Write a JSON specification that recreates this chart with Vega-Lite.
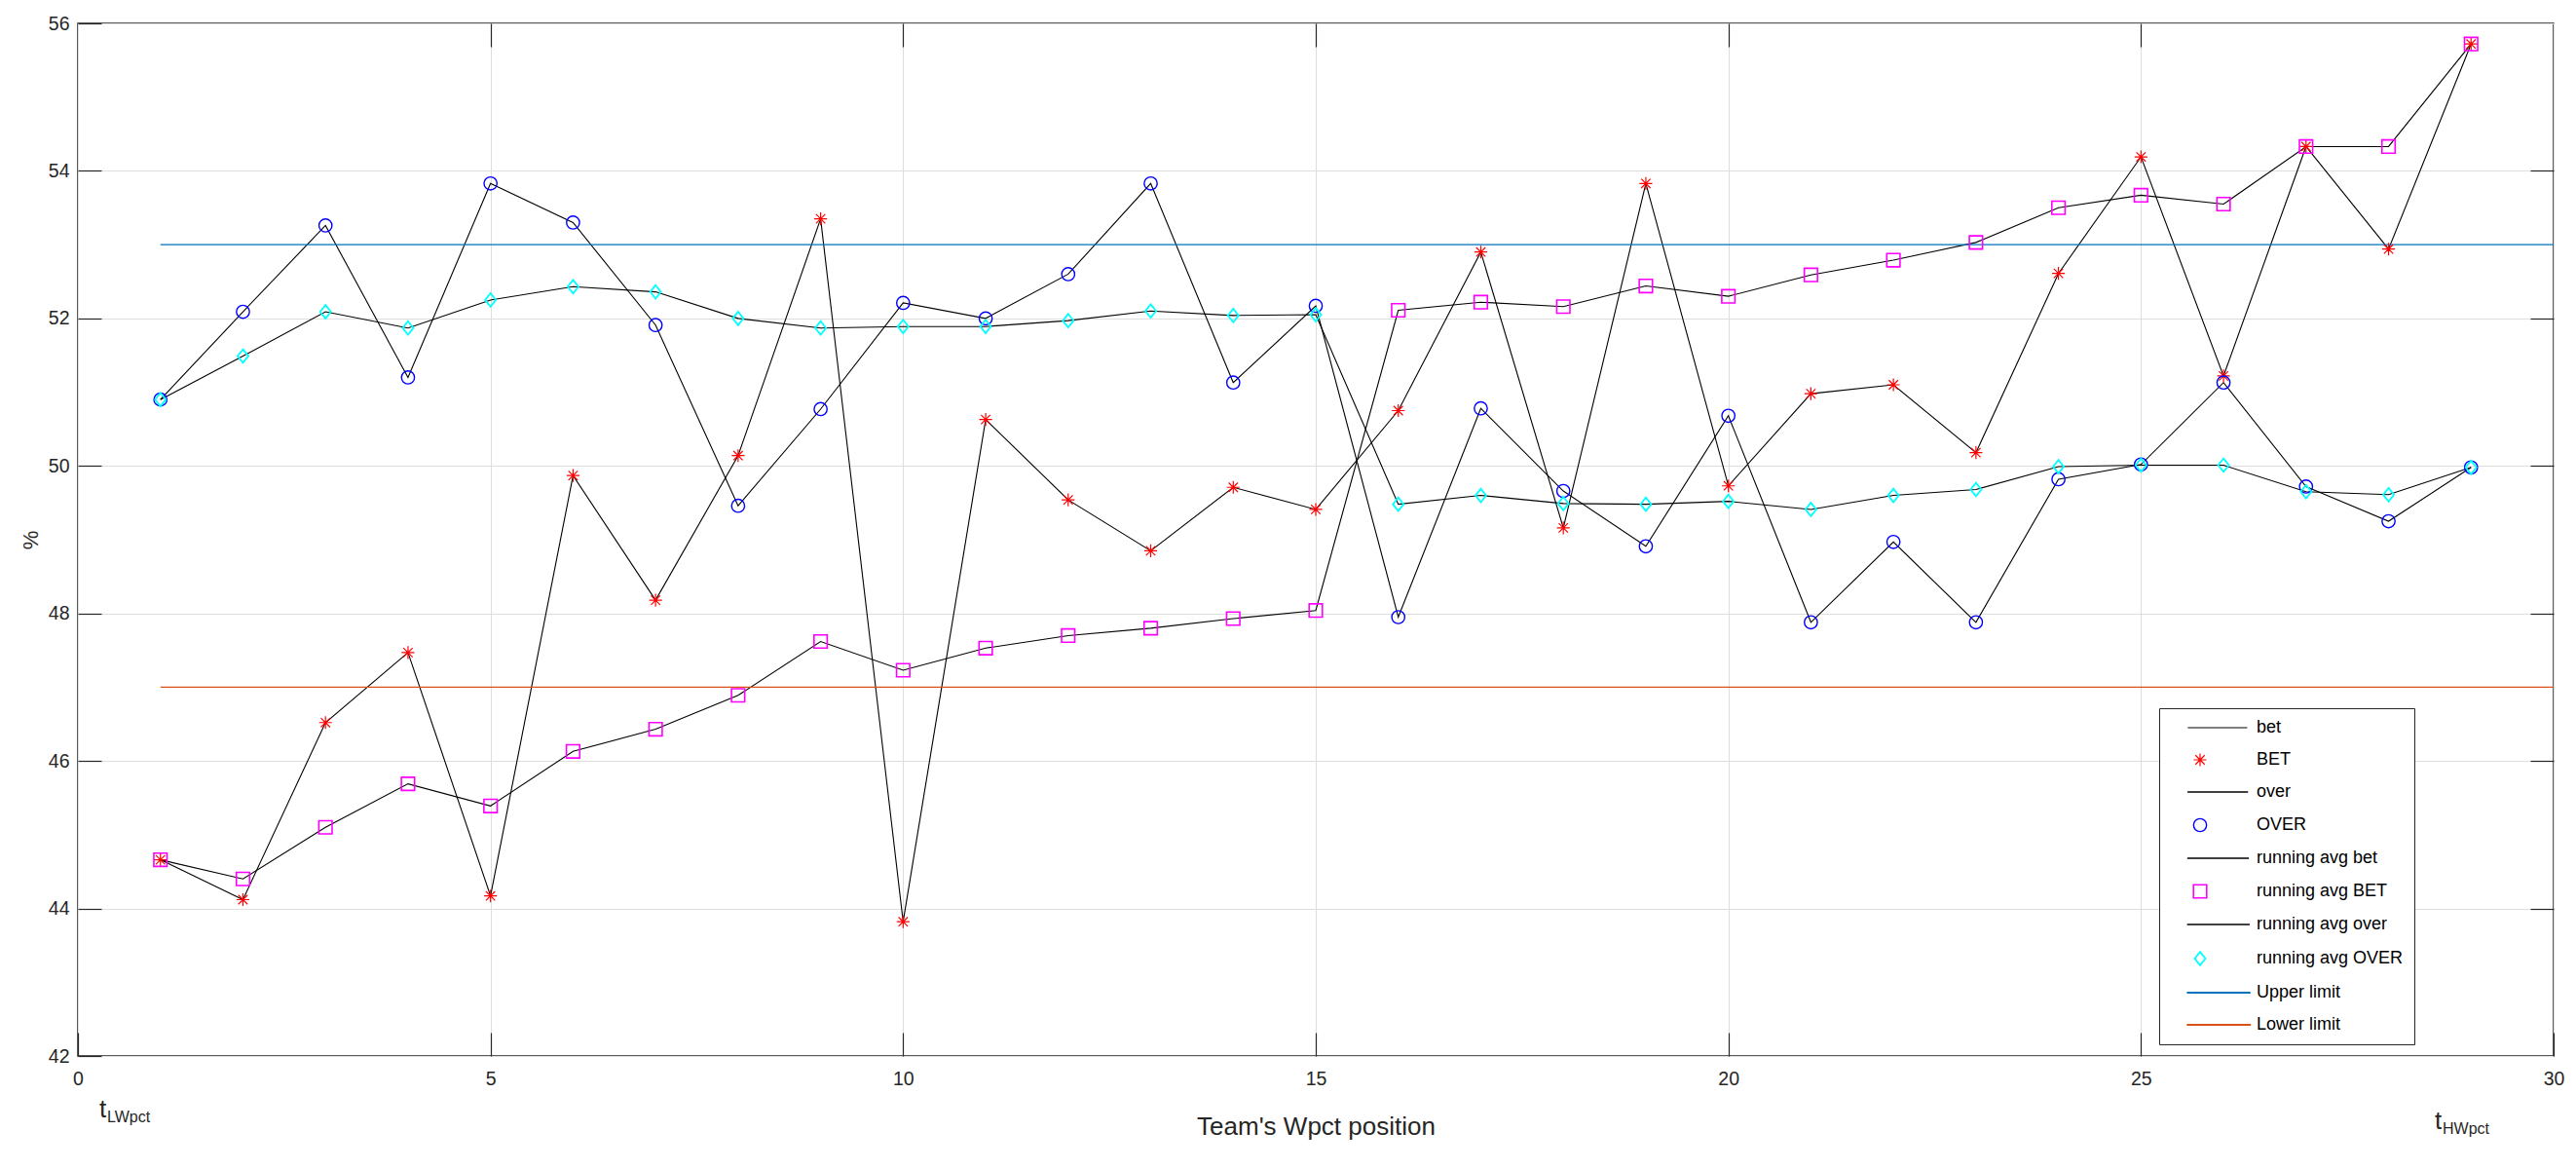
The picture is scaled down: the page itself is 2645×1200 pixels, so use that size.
{
  "$schema": "https://vega.github.io/schema/vega-lite/v6.json",
  "description": "BET / OVER by team Wpct position with running averages and limits",
  "width": 2542,
  "height": 1060,
  "autosize": {"type": "none"},
  "padding": {"left": 80, "top": 24, "right": 23, "bottom": 116},
  "config": {
    "font": "Liberation Sans",
    "view": {"stroke": "#262626", "strokeWidth": 1.5},
    "axis": {
      "domain": false,
      "labelColor": "#262626",
      "titleColor": "#262626",
      "tickColor": "#262626",
      "tickWidth": 1.2,
      "gridColor": "#dedede",
      "gridWidth": 1,
      "labelFont": "Liberation Sans",
      "titleFont": "Liberation Sans",
      "titleFontWeight": "normal",
      "labelFontSize": 19.5
    }
  },
  "datasets": {
    "teams": [
      {"x": 1, "BET": 44.66, "OVER": 50.90, "running avg BET": 44.66, "running avg OVER": 50.90},
      {"x": 2, "BET": 44.12, "OVER": 52.09, "running avg BET": 44.40, "running avg OVER": 51.49},
      {"x": 3, "BET": 46.52, "OVER": 53.26, "running avg BET": 45.10, "running avg OVER": 52.09},
      {"x": 4, "BET": 47.47, "OVER": 51.20, "running avg BET": 45.69, "running avg OVER": 51.87},
      {"x": 5, "BET": 44.17, "OVER": 53.83, "running avg BET": 45.39, "running avg OVER": 52.25},
      {"x": 6, "BET": 49.87, "OVER": 53.30, "running avg BET": 46.13, "running avg OVER": 52.43},
      {"x": 7, "BET": 48.18, "OVER": 51.91, "running avg BET": 46.43, "running avg OVER": 52.36},
      {"x": 8, "BET": 50.14, "OVER": 49.46, "running avg BET": 46.89, "running avg OVER": 52.00},
      {"x": 9, "BET": 53.35, "OVER": 50.77, "running avg BET": 47.62, "running avg OVER": 51.87},
      {"x": 10, "BET": 43.82, "OVER": 52.21, "running avg BET": 47.23, "running avg OVER": 51.89},
      {"x": 11, "BET": 50.63, "OVER": 52.00, "running avg BET": 47.53, "running avg OVER": 51.89},
      {"x": 12, "BET": 49.54, "OVER": 52.60, "running avg BET": 47.70, "running avg OVER": 51.97},
      {"x": 13, "BET": 48.85, "OVER": 53.83, "running avg BET": 47.80, "running avg OVER": 52.10},
      {"x": 14, "BET": 49.71, "OVER": 51.13, "running avg BET": 47.93, "running avg OVER": 52.04},
      {"x": 15, "BET": 49.41, "OVER": 52.17, "running avg BET": 48.04, "running avg OVER": 52.05},
      {"x": 16, "BET": 50.75, "OVER": 47.95, "running avg BET": 52.11, "running avg OVER": 49.48},
      {"x": 17, "BET": 52.90, "OVER": 50.78, "running avg BET": 52.22, "running avg OVER": 49.60},
      {"x": 18, "BET": 49.16, "OVER": 49.66, "running avg BET": 52.16, "running avg OVER": 49.49},
      {"x": 19, "BET": 53.83, "OVER": 48.91, "running avg BET": 52.44, "running avg OVER": 49.48},
      {"x": 20, "BET": 49.73, "OVER": 50.68, "running avg BET": 52.30, "running avg OVER": 49.52},
      {"x": 21, "BET": 50.98, "OVER": 47.88, "running avg BET": 52.59, "running avg OVER": 49.41},
      {"x": 22, "BET": 51.10, "OVER": 48.97, "running avg BET": 52.79, "running avg OVER": 49.60},
      {"x": 23, "BET": 50.18, "OVER": 47.88, "running avg BET": 53.03, "running avg OVER": 49.68},
      {"x": 24, "BET": 52.61, "OVER": 49.82, "running avg BET": 53.50, "running avg OVER": 49.99},
      {"x": 25, "BET": 54.19, "OVER": 50.02, "running avg BET": 53.67, "running avg OVER": 50.01},
      {"x": 26, "BET": 51.22, "OVER": 51.13, "running avg BET": 53.55, "running avg OVER": 50.01},
      {"x": 27, "BET": 54.33, "OVER": 49.72, "running avg BET": 54.33, "running avg OVER": 49.65},
      {"x": 28, "BET": 52.94, "OVER": 49.25, "running avg BET": 54.33, "running avg OVER": 49.61},
      {"x": 29, "BET": 55.72, "OVER": 49.98, "running avg BET": 55.72, "running avg OVER": 49.98}
    ],
    "limits": [
      {"series": "Upper limit", "y": 53, "from": 1, "to": 30},
      {"series": "Lower limit", "y": 47, "from": 1, "to": 30}
    ],
    "notes": [
      {"x": 0.26, "y": 41.17, "t": "t", "sub": "LWpct"},
      {"x": 28.56, "y": 41.01, "t": "t", "sub": "HWpct"}
    ]
  },
  "layer": [
    {
      "data": {"name": "teams"},
      "transform": [{"fold": ["BET", "OVER", "running avg BET", "running avg OVER"], "as": ["series", "pct"]}],
      "mark": {"type": "line", "stroke": "#000000", "strokeWidth": 1.1},
      "encoding": {
        "x": {
          "field": "x", "type": "quantitative",
          "scale": {"domain": [0, 30], "nice": false},
          "axis": {
            "orient": "bottom", "values": [0, 5, 10, 15, 20, 25, 30],
            "grid": true, "offset": -24, "tickSize": 24, "labelPadding": 14.5, "labelFlush": false,
            "title": "Team's Wpct position", "titleFontSize": 26, "titleY": 83
          }
        },
        "y": {
          "field": "pct", "type": "quantitative",
          "scale": {"domain": [42, 56], "nice": false, "zero": false},
          "axis": {
            "orient": "left", "values": [42, 44, 46, 48, 50, 52, 54, 56],
            "grid": true, "offset": -24, "tickSize": 24, "labelPadding": 9,
            "title": "%", "titleFontSize": 22, "titleX": -61, "titleY": 530
          }
        },
        "detail": {"field": "series"}
      }
    },
    {
      "data": {"name": "limits"},
      "transform": [{"filter": "datum.series == 'Upper limit'"}],
      "mark": {"type": "rule", "stroke": "#0072bd", "strokeWidth": 1.3},
      "encoding": {
        "x": {
          "field": "from", "type": "quantitative",
          "scale": {"domain": [0, 30], "nice": false},
          "axis": {
            "orient": "top", "values": [5, 10, 15, 20, 25],
            "grid": false, "labels": false, "offset": -24, "tickSize": 24, "title": null
          }
        },
        "x2": {"field": "to"},
        "y": {
          "field": "y", "type": "quantitative",
          "scale": {"domain": [42, 56], "nice": false, "zero": false},
          "axis": {
            "orient": "right", "values": [44, 46, 48, 50, 52, 54],
            "grid": false, "labels": false, "offset": -24, "tickSize": 24, "title": null
          }
        }
      }
    },
    {
      "data": {"name": "limits"},
      "transform": [{"filter": "datum.series == 'Lower limit'"}],
      "mark": {"type": "rule", "stroke": "#d95319", "strokeWidth": 1.3},
      "encoding": {
        "x": {"field": "from", "type": "quantitative", "axis": null},
        "x2": {"field": "to"},
        "y": {"field": "y", "type": "quantitative", "axis": null}
      }
    },
    {
      "data": {"name": "teams"},
      "transform": [{"fold": ["BET", "OVER", "running avg BET", "running avg OVER"], "as": ["series", "pct"]}],
      "mark": {"type": "point", "filled": false, "opacity": 1},
      "encoding": {
        "x": {"field": "x", "type": "quantitative", "axis": null},
        "y": {"field": "pct", "type": "quantitative", "axis": null},
        "stroke": {
          "field": "series", "type": "nominal",
          "scale": {
            "domain": ["bet", "BET", "over", "OVER", "running avg bet", "running avg BET", "running avg over", "running avg OVER", "Upper limit", "Lower limit"],
            "range": ["#000000", "#ff0000", "#000000", "#0000ff", "#000000", "#ff00ff", "#000000", "#00ffff", "#0072bd", "#d95319"]
          },
          "legend": {
            "orient": "none",
            "legendX": 2137,
            "legendY": 703,
            "title": null,
            "strokeColor": "#262626",
            "fillColor": "white",
            "padding": 11,
            "rowPadding": 15,
            "labelFont": "Liberation Sans",
            "labelFontSize": 18,
            "labelColor": "#000000",
            "labelLimit": 400,
            "symbolOffset": 22,
            "labelOffset": 49,
            "labelExpr": "datum.label + '\u00a0\u00a0\u00a0\u00a0\u00a0'"
          }
        },
        "shape": {
          "field": "series", "type": "nominal",
          "scale": {
            "domain": ["bet", "BET", "over", "OVER", "running avg bet", "running avg BET", "running avg over", "running avg OVER", "Upper limit", "Lower limit"],
            "range": [
              "M-1.95,0L7.45,0",
              "M-1,0L1,0M0,-1L0,1M-0.72,-0.72L0.72,0.72M-0.72,0.72L0.72,-0.72",
              "M-1.95,0L7.45,0",
              "circle",
              "M-1.95,0L7.45,0",
              "square",
              "M-1.95,0L7.45,0",
              "M0,-1L0.8,0L0,1L-0.8,0Z",
              "M-1.95,0L7.45,0",
              "M-1.95,0L7.45,0"
            ]
          }
        },
        "size": {
          "field": "series", "type": "nominal",
          "scale": {
            "domain": ["bet", "BET", "over", "OVER", "running avg bet", "running avg BET", "running avg over", "running avg OVER", "Upper limit", "Lower limit"],
            "range": [169, 196, 169, 196, 169, 121, 169, 289, 169, 169]
          }
        },
        "strokeWidth": {
          "field": "series", "type": "nominal",
          "scale": {
            "domain": ["bet", "BET", "over", "OVER", "running avg bet", "running avg BET", "running avg over", "running avg OVER", "Upper limit", "Lower limit"],
            "range": [1.1, 2, 1.1, 2, 1.1, 2, 1.1, 2, 1.3, 1.3]
          }
        }
      }
    },
    {
      "data": {"name": "notes"},
      "mark": {"type": "text", "align": "left", "baseline": "alphabetic", "fontSize": 26, "color": "#262626"},
      "encoding": {
        "x": {"field": "x", "type": "quantitative", "axis": null},
        "y": {"field": "y", "type": "quantitative", "axis": null},
        "text": {"field": "t"}
      }
    },
    {
      "data": {"name": "notes"},
      "mark": {"type": "text", "align": "left", "baseline": "alphabetic", "fontSize": 16, "color": "#262626", "dx": 8, "dy": 5},
      "encoding": {
        "x": {"field": "x", "type": "quantitative", "axis": null},
        "y": {"field": "y", "type": "quantitative", "axis": null},
        "text": {"field": "sub"}
      }
    }
  ],
  "resolve": {"axis": {"x": "independent", "y": "independent"}}
}
